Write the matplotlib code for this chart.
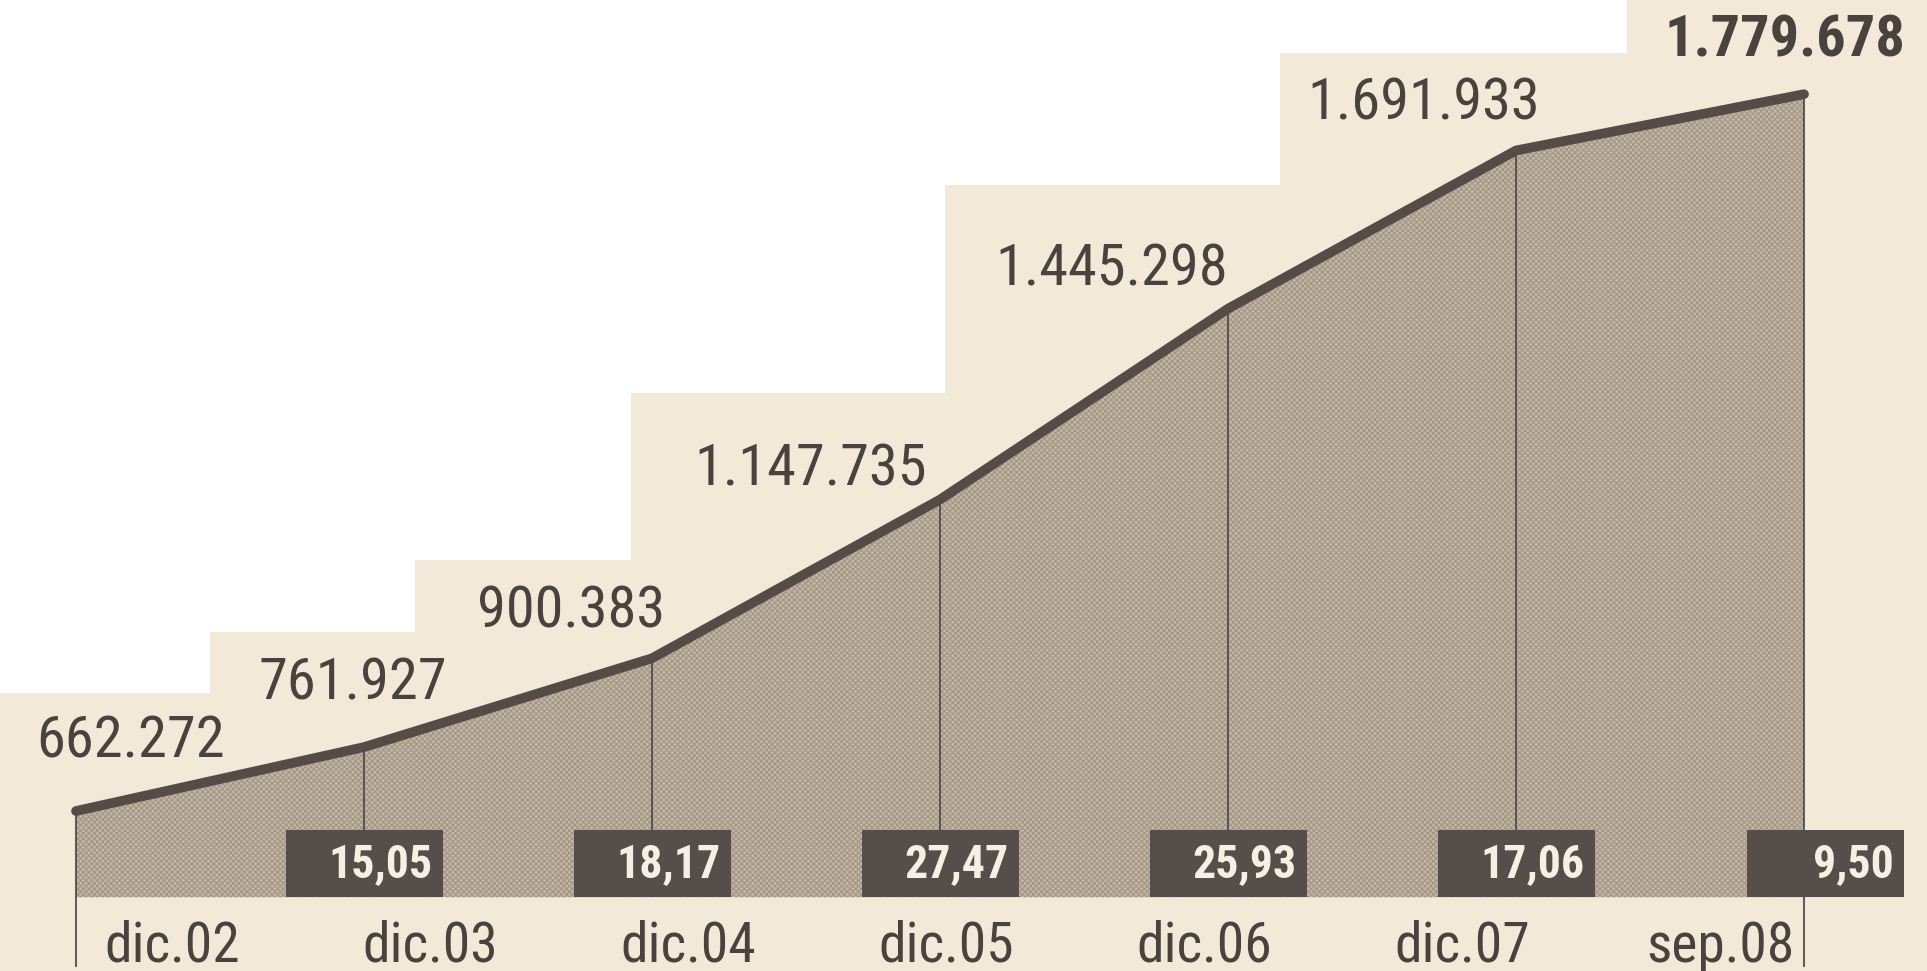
import matplotlib
matplotlib.use("Agg")
import matplotlib.pyplot as plt
import matplotlib.transforms as mtransforms
from matplotlib.patches import Rectangle, Polygon
import numpy as np

periods = ["dic.02", "dic.03", "dic.04", "dic.05", "dic.06", "dic.07", "sep.08"]
values = [662272, 761927, 900383, 1147735, 1445298, 1691933, 1779678]
value_labels = ["662.272", "761.927", "900.383", "1.147.735", "1.445.298", "1.691.933", "1.779.678"]
growth = ["15,05", "18,17", "27,47", "25,93", "17,06", "9,50"]

plt.rcParams['font.family'] = ['Roboto Condensed', 'IBM Plex Sans Condensed', 'DejaVu Sans']

paper = '#f3e9d8'
ink = '#564c45'
box_col = '#564e48'
fill_col = '#c4b6a5'

W, H = 1927, 971
fig = plt.figure(figsize=(W / 100, H / 100), dpi=100)
fig.patch.set_facecolor('white')

ax = fig.add_axes([0, 0, 1, 1])
ax.patch.set_alpha(0)
ax.set_xlim(-0.264, 6.427)
ax.set_ylim(412900, 1926500)
ax.axis('off')

# stepped paper background behind the labels (figure pixels)
steps = [(0, 693), (210, 632), (415, 560), (631, 393), (945, 185), (1280, 53), (1627, 0)]
pts = [(0, H)]
for i, (sx, sy) in enumerate(steps):
    nx = steps[i + 1][0] if i + 1 < len(steps) else W
    pts += [(sx, sy), (nx, sy)]
pts += [(W, H)]
ax.add_patch(Polygon([(px / W, 1 - py / H) for px, py in pts], closed=True,
                     transform=ax.transAxes, facecolor=paper, edgecolor='none', zorder=0))

x = np.arange(len(values))
base = 528000
box_top = 632500

plt.rcParams['hatch.linewidth'] = 0.8
ax.fill_between(x, values, base, facecolor=fill_col, edgecolor='#a39585', hatch='xxxxxx',
                linewidth=0, zorder=2)

# vertical guides
for i in range(1, len(values) - 1):
    ax.plot([x[i], x[i]], [values[i], box_top], color=ink, lw=1.3, zorder=3)
for i in (0, len(values) - 1):
    ax.plot([x[i], x[i]], [values[i], 420000], color=ink, lw=1.3, zorder=3)

ax.plot(x, values, color=ink, lw=7, solid_capstyle='round', solid_joinstyle='round', zorder=5)

# growth boxes
box_w = 0.545
shift = [0, 0, 0, 0, 0, 0.075]
for i, g in enumerate(growth):
    cx = x[i + 1] + shift[i]
    ax.add_patch(Rectangle((cx - box_w / 2, base), box_w, box_top - base,
                           facecolor=box_col, edgecolor='none', zorder=6))
    ax.text(cx + box_w / 2 - 0.035, (base + box_top) / 2, g, color='#f6efe3',
            fontsize=33, fontweight='bold', ha='right', va='center', zorder=7)

# value labels
offsets = [(55, 69), (-11, 63), (-81, 46), (-129, 30), (-116, 39), (-92, 46), (-19, 53)]
for i, lab in enumerate(value_labels):
    last = i == len(value_labels) - 1
    ax.annotate(lab, (x[i], values[i]), xytext=offsets[i], textcoords='offset pixels',
                ha='center', va='center', fontsize=42, color='#4a423c',
                fontweight='bold' if last else 'normal', zorder=8)

# period labels along the bottom
trans = mtransforms.blended_transform_factory(ax.transData, ax.transAxes)
for i, p in enumerate(periods):
    ax.text(0.333 + i * 0.896, 1 - 946 / H, p, transform=trans, ha='center', va='center',
            fontsize=40, color='#4a423c', zorder=8)

fig.savefig('out.png', dpi=100, facecolor=fig.get_facecolor())
